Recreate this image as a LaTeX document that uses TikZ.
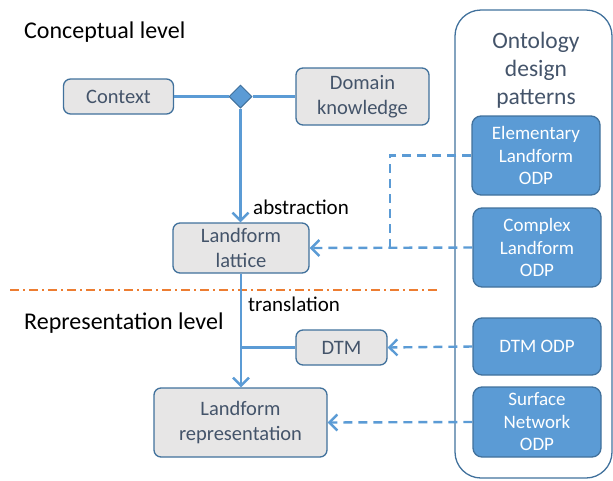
\documentclass[tikz,border=0pt]{standalone}
\usepackage{fontspec}
\setmainfont{Carlito}
\usetikzlibrary{shapes.geometric,arrows.meta}
\definecolor{boxfill}{HTML}{E7E6E6}
\definecolor{boxline}{HTML}{41719C}
\definecolor{boxtext}{HTML}{44546A}
\definecolor{linkblue}{HTML}{5B9BD5}
\definecolor{cutorange}{HTML}{ED7D31}
\tikzset{
    greybox/.style={draw=boxline,fill=boxfill,line width=1.3pt,rounded corners=7pt,
        text=boxtext,align=center,inner sep=0pt,font=\fontsize{20.5}{24.5}\selectfont},
    odpbox/.style={draw=boxline,fill=linkblue,line width=1.3pt,rounded corners=9pt,
        text=white,align=center,inner sep=0pt,minimum width=128pt,
        font=\fontsize{19}{22.5}\selectfont},
    link/.style={draw=linkblue,line width=2.4pt},
    dashlink/.style={link,dash pattern=on 9pt off 6pt},
    tip/.style={-{Straight Barb[length=8pt,width=16pt,line width=2.4pt]}},
    levellabel/.style={anchor=west,inner sep=0pt,font=\fontsize{24}{28}\selectfont},
    linklabel/.style={anchor=west,inner sep=0pt,font=\fontsize{21}{24}\selectfont}
}
\begin{document}
\begin{tikzpicture}[x=1pt,y=-1pt]
    \useasboundingbox (0,0) rectangle (613,480);
    % ontology design patterns panel
    \draw[boxline,line width=1.3pt,rounded corners=26pt] (455,10) rectangle (612,478);
    \node[text=boxtext,align=center,font=\fontsize{23.5}{28}\selectfont] (odptitle) at (536,70) {Ontology\\design\\patterns};
    \node[odpbox,minimum height=79pt] (elem) at (536,155.5) {Elementary\\Landform\\ODP};
    \node[odpbox,minimum height=79pt] (cplx) at (537,247.5) {Complex\\Landform\\ODP};
    \node[odpbox,minimum height=57pt] (dtmodp) at (537,346.5) {DTM ODP};
    \node[odpbox,minimum height=70pt] (surf) at (537,422) {Surface\\Network\\ODP};
    % levels
    \node[levellabel] (concl) at (24,32) {Conceptual level};
    \node[levellabel] (reprl) at (24,323) {Representation level};
    \draw[cutorange,line width=1.3pt,dash pattern=on 9pt off 4pt on 2pt off 4pt] (10,290) -- (438,290);
    % concept boxes
    \node[greybox,minimum width=110pt,minimum height=35pt] (context) at (118.5,96.5) {Context};
    \node[greybox,minimum width=133pt,minimum height=57pt] (domain) at (362.5,96.5) {Domain\\knowledge};
    \node[diamond,draw=boxline,fill=linkblue,line width=1pt,inner sep=0pt,minimum size=23pt] (join) at (240.5,96.5) {};
    \node[greybox,minimum width=136pt,minimum height=50pt] (lattice) at (241,248) {Landform\\lattice};
    \node[greybox,minimum width=91pt,minimum height=35pt] (dtm) at (341.5,347.5) {DTM};
    \node[greybox,minimum width=173pt,minimum height=69pt] (repr) at (240.5,422.5) {Landform\\representation};
    % solid connectors
    \draw[link] (context.east) -- (join.west);
    \draw[link] (join.east) -- (domain.west);
    \draw[link,tip] (join.south) -- (join.south |- lattice.north);
    \node[linklabel] (abstr) at (253,207) {abstraction};
    \draw[link,tip] (lattice.south) -- (lattice.south |- repr.north);
    \draw[link] (dtm.west) -- (lattice.south |- dtm.west);
    \node[linklabel] (transl) at (248,304) {translation};
    % dashed connectors from the patterns
    \coordinate (bend) at (390,248);
    \draw[dashlink] (elem.west) -| (bend);
    \draw[dashlink,tip] (cplx.west) -- (lattice.east);
    \draw[dashlink,tip] (dtmodp.west) -- (dtm.east);
    \draw[dashlink,tip] (surf.west) -- (repr.east);
\end{tikzpicture}
\end{document}
